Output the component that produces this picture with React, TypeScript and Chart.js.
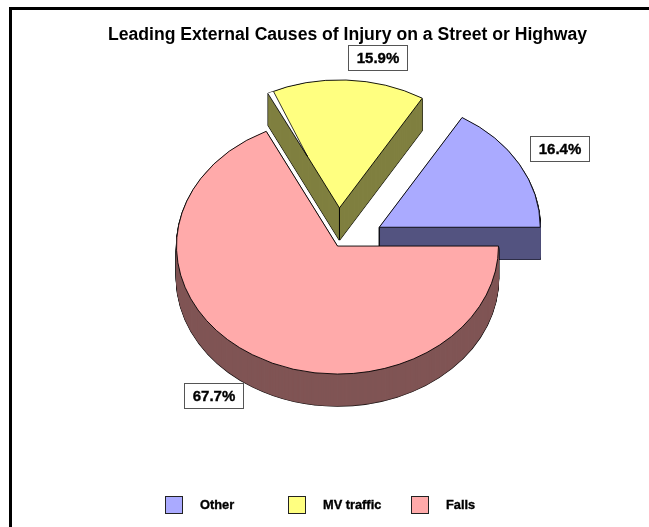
import React, { useEffect, useRef } from "react";
import { Chart, registerables } from "chart.js";

Chart.register(...registerables);

const TITLE = "Leading External Causes of Injury on a Street or Highway";
// Clockwise from east, the way Chart.js walks the pie.
const categories = ["Falls", "MV traffic", "Other"];
const shares = [67.7, 15.9, 16.4];
const faceColors = ["#FFAAAA", "#FFFF80", "#AAAAFF"];
const wallColors = ["#805555", "#808040", "#555580"];
const explodeDistance = [0, 48, 48];
const labelDistance = [226, 192, 206];
const labelAngleShift = [1.4, 9.1, 0.9];
const legendOrder = [2, 1, 0];

const FONT = "'Liberation Sans', Arial, sans-serif";
const SQUASH = 0.795;
const DEPTH = 32;
const SHIFT_X = -10;

function drawPie(chart: any) {
  const ctx = chart.ctx;
  const arcs = chart.getDatasetMeta(0).data;
  const cy = arcs[0].y;
  const place = (i: number, d: number) => {
    const a = arcs[i];
    const mid = (a.startAngle + a.endAngle) / 2;
    ctx.translate(SHIFT_X + Math.cos(mid) * explodeDistance[i], d);
    ctx.translate(0, cy);
    ctx.scale(1, SQUASH);
    ctx.translate(0, -cy);
    ctx.translate(0, Math.sin(mid) * explodeDistance[i]);
  };
  const paint = (i: number, d: number, extra: any) => {
    const a = arcs[i];
    const saved = a.options;
    a.options = { ...saved, ...extra };
    ctx.save();
    place(i, d);
    a.draw(ctx);
    ctx.restore();
    a.options = saved;
  };
  // back to front: the exploded slices first, the big slice over them
  [1, 2, 0].forEach((i) => {
    for (let d = DEPTH; d >= 1; d--) {
      paint(i, d, { backgroundColor: "#000", borderColor: "#000", borderWidth: 1.6 });
    }
    for (let d = DEPTH; d >= 1; d--) {
      paint(i, d, { backgroundColor: wallColors[i], borderColor: wallColors[i], borderWidth: 0.6 });
    }
    const a = arcs[i];
    const mid = (a.startAngle + a.endAngle) / 2;
    const ax = a.x + SHIFT_X + Math.cos(mid) * explodeDistance[i];
    const ay = a.y + Math.sin(mid) * explodeDistance[i] * SQUASH;
    ctx.save();
    ctx.strokeStyle = "#000";
    ctx.lineWidth = 1;
    ctx.beginPath();
    ctx.moveTo(ax, ay);
    ctx.lineTo(ax, ay + DEPTH);
    ctx.stroke();
    ctx.restore();
    paint(i, 0, {});
    if (explodeDistance[i] > 0 && a.startAngle < Math.PI * 1.5 && a.endAngle > Math.PI * 1.5) {
      // thin white sliver between the yellow face and its wall
      const r = a.outerRadius;
      const cx0 = ax + Math.cos(a.startAngle) * r;
      const cy0 = ay + Math.sin(a.startAngle) * r * SQUASH;
      const tipX = cx0 + (ax - cx0) * 0.55;
      const tipY = cy0 + (ay - cy0) * 0.55;
      const inA = a.startAngle + 0.03;
      const inX = ax + Math.cos(inA) * r;
      const inY = ay + Math.sin(inA) * r * SQUASH;
      ctx.save();
      ctx.beginPath();
      ctx.moveTo(cx0 - 0.5, cy0);
      ctx.lineTo(inX + 1, inY);
      ctx.lineTo(tipX, tipY);
      ctx.closePath();
      ctx.fillStyle = "#fff";
      ctx.fill();
      ctx.strokeStyle = "#000";
      ctx.lineWidth = 0.8;
      ctx.beginPath();
      ctx.moveTo(inX + 1, inY);
      ctx.lineTo(tipX, tipY);
      ctx.lineTo(cx0 - 0.5, cy0);
      ctx.stroke();
      ctx.restore();
    }
  });
}

function boldText(ctx: any, text: string, x: number, y: number) {
  ctx.fillStyle = "#000";
  ctx.strokeStyle = "#000";
  ctx.lineWidth = 0.35;
  ctx.fillText(text, x, y);
  ctx.strokeText(text, x, y);
}

function drawLabels(chart: any) {
  const ctx = chart.ctx;
  const arcs = chart.getDatasetMeta(0).data;
  ctx.save();
  ctx.font = `bold 15px ${FONT}`;
  ctx.textAlign = "center";
  ctx.textBaseline = "middle";
  arcs.forEach((a: any, i: number) => {
    const mid = (a.startAngle + a.endAngle) / 2;
    const ang = mid + (labelAngleShift[i] * Math.PI) / 180;
    const ax = a.x + SHIFT_X + Math.cos(mid) * explodeDistance[i];
    const ay = a.y + Math.sin(mid) * explodeDistance[i] * SQUASH;
    const x = Math.round(ax + Math.cos(ang) * labelDistance[i]);
    const y = Math.round(ay + Math.sin(ang) * labelDistance[i] * SQUASH);
    ctx.fillStyle = "#fff";
    ctx.strokeStyle = "#555";
    ctx.lineWidth = 1;
    ctx.fillRect(x - 29.5, y - 12.5, 59, 25);
    ctx.strokeRect(x - 29.5, y - 12.5, 59, 25);
    boldText(ctx, `${shares[i].toFixed(1)}%`, x, y + 1);
  });
  ctx.restore();
}

function drawLegend(chart: any) {
  const ctx = chart.ctx;
  ctx.save();
  ctx.font = `bold 12.8px ${FONT}`;
  ctx.textBaseline = "middle";
  legendOrder.forEach((i, col) => {
    const x = 165.5 + col * 123;
    ctx.fillStyle = faceColors[i];
    ctx.fillRect(x, 496.5, 17, 17);
    ctx.strokeStyle = "#222";
    ctx.lineWidth = 1;
    ctx.strokeRect(x, 496.5, 17, 17);
    boldText(ctx, categories[i], x + 34.5, 505.5);
  });
  ctx.restore();
}

const frameAndPie = {
  id: "frameAndPie",
  beforeDraw(chart: any) {
    const ctx = chart.ctx;
    ctx.save();
    ctx.fillStyle = "#fff";
    ctx.fillRect(0, 0, chart.width, chart.height);
    ctx.fillStyle = "#000";
    ctx.fillRect(9, 7, chart.width - 9, 3);
    ctx.fillRect(9, 7, 3, chart.height - 7);
    ctx.restore();
  },
  beforeDatasetDraw(chart: any) {
    drawPie(chart);
    return false;
  },
  afterDatasetsDraw(chart: any) {
    drawLabels(chart);
    drawLegend(chart);
  },
};

export default function App() {
  const ref = useRef<HTMLCanvasElement | null>(null);
  useEffect(() => {
    const chart = new Chart(ref.current as HTMLCanvasElement, {
      type: "pie",
      data: {
        labels: categories,
        datasets: [
          {
            data: shares,
            backgroundColor: faceColors,
            borderColor: "#000",
            borderWidth: 1,
          },
        ],
      },
      options: {
        responsive: false,
        animation: false,
        rotation: 90,
        radius: 161,
        layout: { padding: { left: 46, right: 0, top: 0, bottom: 81 } },
        plugins: {
          legend: { display: false },
          tooltip: { enabled: false },
          title: {
            display: true,
            text: TITLE,
            color: "#000",
            font: { family: FONT, size: 17.6, weight: "bold" },
            padding: { top: 25, bottom: 0 },
          },
        },
      },
      plugins: [frameAndPie],
    } as any);
    return () => chart.destroy();
  }, []);
  return (
    <div style={{ position: "absolute", left: 0, top: 0, width: 649, height: 527 }}>
      <canvas ref={ref} width={649} height={527} style={{ display: "block" }} />
    </div>
  );
}
